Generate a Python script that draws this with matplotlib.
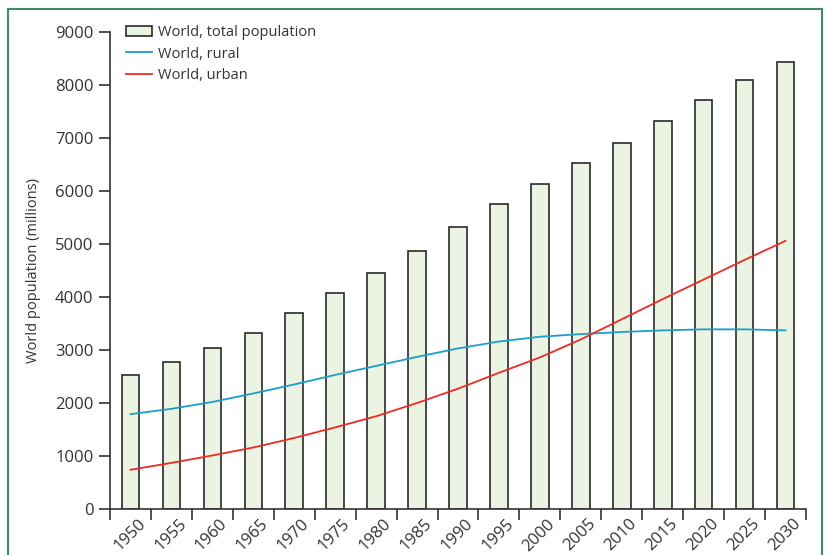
import numpy as np
import matplotlib.pyplot as plt
from matplotlib.patches import Rectangle
from matplotlib.transforms import ScaledTranslation

plt.rcParams['font.family'] = ['Open Sans', 'DejaVu Sans']

years = [1950, 1955, 1960, 1965, 1970, 1975, 1980, 1985, 1990,
         1995, 2000, 2005, 2010, 2015, 2020, 2025, 2030]
total = [2530, 2770, 3030, 3330, 3700, 4080, 4450, 4870, 5320,
         5750, 6140, 6520, 6910, 7320, 7720, 8090, 8430]
rural = [1790, 1890, 2020, 2180, 2350, 2530, 2700, 2870, 3030,
         3160, 3250, 3300, 3340, 3370, 3390, 3390, 3370]
urban = [740, 870, 1010, 1160, 1340, 1540, 1750, 2000, 2270,
         2570, 2860, 3200, 3580, 3960, 4330, 4700, 5060]

dark = '#333333'
x = np.arange(len(years))

fig = plt.figure(figsize=(8.26, 5.55), dpi=100)
ax = fig.add_axes([0.1332, 0.0829, 0.8426, 0.8594])

bars = ax.bar(x, total, width=0.43, color='#ebf3e3', edgecolor='#2a2a2a', linewidth=1.2,
              label='World, total population', zorder=2)
l1, = ax.plot(x, rural, color='#1a9fc9', lw=1.3, label='World, rural', zorder=3)
l2, = ax.plot(x, urban, color='#ee2a24', lw=1.3, label='World, urban', zorder=3)

ax.set_xlim(-0.5, len(years) - 0.5)
ax.set_ylim(0, 9000)
ax.set_yticks(np.arange(0, 9001, 1000))

# ticks at the bin edges, labels under the bars
ax.set_xticks(np.arange(len(years) + 1) - 0.5)
ax.set_xticklabels([])
ax.set_xticks(x, minor=True)
ax.set_xticklabels([str(y) for y in years], minor=True, rotation=45,
                   ha='right', va='top', rotation_mode='anchor')
ax.tick_params(axis='x', which='minor', length=0, pad=5)
off = ScaledTranslation(7 / 100, 0, fig.dpi_scale_trans)
for lab in ax.get_xticklabels(minor=True):
    lab.set_transform(lab.get_transform() + off)

ax.tick_params(which='major', direction='out', length=8, width=1.2, color=dark)
ax.tick_params(which='both', labelsize=12, labelcolor=dark)
ax.tick_params(axis='y', pad=4)

for s in ['top', 'right']:
    ax.spines[s].set_visible(False)
for s in ['left', 'bottom']:
    ax.spines[s].set_color(dark)
    ax.spines[s].set_linewidth(1.2)

ax.set_ylabel('World population (millions)', fontsize=10.5, color=dark, labelpad=10)

leg = ax.legend([bars, l1, l2], ['World, total population', 'World, rural', 'World, urban'],
                loc='upper left', bbox_to_anchor=(0.014, 1.027), frameon=False,
                fontsize=10.5, handlelength=1.8, handletextpad=0.45,
                labelspacing=0.45, borderaxespad=0)
for t in leg.get_texts():
    t.set_color(dark)

fig.patches.append(Rectangle((8 / 826, -0.05), 814 / 826, 1.05 - 9 / 555,
                             transform=fig.transFigure, fill=False,
                             edgecolor='#3d8c67', linewidth=1.5))

fig.savefig('out.png', dpi=100)
